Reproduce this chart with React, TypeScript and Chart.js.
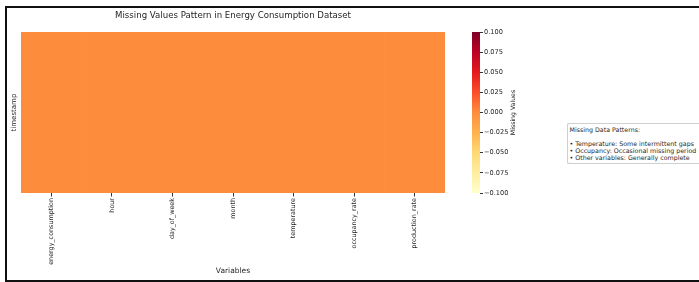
import React, { useEffect, useRef } from "react";
import { Chart, registerables } from "chart.js";

Chart.register(...registerables);

const variables = [
  "energy_consumption",
  "hour",
  "day_of_week",
  "month",
  "temperature",
  "occupancy_rate",
  "production_rate",
];
// missing-value indicator per variable (all complete -> 0)
const missingValues = [0, 0, 0, 0, 0, 0, 0];
const timestampSpan = [0, 1];
const colorbarMin = -0.1;
const colorbarMax = 0.1;
const colorbarStep = 0.025;
const ylOrRd = ["#ffffcc", "#ffeda0", "#fed976", "#feb24c", "#fd8d3c", "#fc4e2a", "#e31a1c", "#bd0026", "#800026"];
const titleText = "Missing Values Pattern in Energy Consumption Dataset";
const noteLines = [
  "Missing Data Patterns:",
  "",
  "• Temperature: Some intermittent gaps",
  "• Occupancy: Occasional missing period",
  "• Other variables: Generally complete",
];

const FONT = "'DejaVu Sans', sans-serif";
const TEXT = "#1f1f1f";

function hexToRgb(h: string) {
  const n = parseInt(h.slice(1), 16);
  return [(n >> 16) & 255, (n >> 8) & 255, n & 255];
}
function cmap(v: number) {
  let t = (v - colorbarMin) / (colorbarMax - colorbarMin);
  t = Math.max(0, Math.min(1, t));
  const pos = t * (ylOrRd.length - 1);
  const i = Math.min(ylOrRd.length - 2, Math.floor(pos));
  const f = pos - i;
  const a = hexToRgb(ylOrRd[i]);
  const b = hexToRgb(ylOrRd[i + 1]);
  const c = a.map((x, k) => Math.round(x + (b[k] - x) * f));
  return `rgb(${c[0]},${c[1]},${c[2]})`;
}

export default function App() {
  const mainRef = useRef<HTMLCanvasElement>(null);
  const cbRef = useRef<HTMLCanvasElement>(null);

  useEffect(() => {
    Chart.defaults.font.family = FONT;
    Chart.defaults.color = TEXT;

    const main = new Chart(mainRef.current!, {
      type: "bar",
      data: {
        labels: variables,
        datasets: [
          {
            data: missingValues.map(() => [timestampSpan[0], timestampSpan[1]]) as any,
            backgroundColor: missingValues.map((v) => cmap(v)),
            borderWidth: 0,
            barPercentage: 1,
            categoryPercentage: 1,
          },
        ],
      },
      options: {
        responsive: false,
        animation: false,
        layout: { padding: { left: 0, top: 0, right: 254, bottom: 0 } },
        plugins: {
          legend: { display: false },
          tooltip: { enabled: false },
          title: {
            display: true,
            text: titleText,
            fullSize: false,
            color: TEXT,
            font: { size: 8.6, weight: "normal" },
            padding: { top: 10.8, bottom: 11 },
          },
        },
        scales: {
          x: {
            type: "category",
            offset: true,
            border: { display: false },
            grid: {
              display: true,
              drawOnChartArea: false,
              drawTicks: true,
              tickLength: 3.5,
              color: "#333",
              offset: false,
            },
            ticks: {
              autoSkip: false,
              maxRotation: 90,
              minRotation: 90,
              padding: 1.5,
              color: TEXT,
              font: { size: 6.4 },
            },
            title: {
              display: true,
              text: "Variables",
              color: TEXT,
              font: { size: 7.5 },
              padding: { top: 0, bottom: 6 },
            },
            afterFit: (s: any) => {
              s.height = 89;
            },
          },
          y: {
            min: timestampSpan[0],
            max: timestampSpan[1],
            border: { display: false },
            grid: { display: false },
            ticks: { display: false },
            title: {
              display: true,
              text: "timestamp",
              color: TEXT,
              font: { size: 7 },
              padding: { top: 9.8, bottom: 0 },
            },
            afterFit: (s: any) => {
              s.width = 21;
            },
          },
        },
      } as any,
    });

    const cbLabel = {
      id: "cbLabel",
      afterDraw(chart: any) {
        const ctx = chart.ctx;
        const area = chart.chartArea;
        ctx.save();
        ctx.translate(53.3, (area.top + area.bottom) / 2);
        ctx.rotate(-Math.PI / 2);
        ctx.textAlign = "center";
        ctx.textBaseline = "middle";
        ctx.fillStyle = TEXT;
        ctx.font = `6.2px ${FONT}`;
        ctx.fillText("Missing Values", 0, 0);
        ctx.restore();
      },
    };

    const cb = new Chart(cbRef.current!, {
      type: "bar",
      data: {
        labels: [""],
        datasets: [
          {
            data: [[colorbarMin, colorbarMax]] as any,
            backgroundColor: (c: any) => {
              const area = c.chart.chartArea;
              if (!area) return ylOrRd[4];
              const g = c.chart.ctx.createLinearGradient(0, area.bottom, 0, area.top);
              ylOrRd.forEach((col, i) => g.addColorStop(i / (ylOrRd.length - 1), col));
              return g;
            },
            borderWidth: 0,
            barPercentage: 1,
            categoryPercentage: 1,
          },
        ],
      },
      options: {
        responsive: false,
        animation: false,
        layout: { padding: { left: 12, top: 32, right: 0, bottom: 89 } },
        plugins: { legend: { display: false }, tooltip: { enabled: false } },
        scales: {
          x: { display: false, offset: true },
          y: {
            position: "right",
            min: colorbarMin,
            max: colorbarMax,
            border: { display: false },
            grid: {
              display: true,
              drawOnChartArea: false,
              drawTicks: true,
              tickLength: 3,
              color: "#333",
            },
            ticks: {
              stepSize: colorbarStep,
              padding: 1,
              color: TEXT,
              font: { size: 6.6 },
              callback: (v: any) => {
                const n = Number(v);
                if (Math.abs(n) < 1e-9) return "0.000";
                return n.toFixed(3).replace("-", "\u2212");
              },
            },
            afterFit: (s: any) => {
              s.width = 80;
            },
          },
        },
      } as any,
      plugins: [cbLabel],
    });

    return () => {
      main.destroy();
      cb.destroy();
    };
  }, []);

  return (
    <div
      style={{
        position: "absolute",
        left: 0,
        top: 0,
        width: 699,
        height: 282,
        overflow: "hidden",
        background: "#fff",
      }}
    >
      <div
        style={{
          position: "absolute",
          left: 5,
          top: 6,
          width: 900,
          height: 272,
          borderTop: "2px solid #111",
          borderLeft: "2px solid #111",
          borderBottom: "2px solid #111",
          borderRight: "none",
        }}
      />
      <canvas
        ref={mainRef}
        width={699}
        height={282}
        style={{ position: "absolute", left: 0, top: 0, width: 699, height: 282 }}
      />
      <canvas
        ref={cbRef}
        width={100}
        height={282}
        style={{ position: "absolute", left: 460, top: 0, width: 100, height: 282 }}
      />
      <div
        style={{
          position: "absolute",
          left: 567,
          top: 123,
          width: 150,
          boxSizing: "border-box",
          border: "1px solid #cfcfcf",
          borderRight: "none",
          borderRadius: 2,
          padding: "2.3px 2px 2px 1.5px",
          fontFamily: FONT,
          fontSize: 6.3,
          lineHeight: "7px",
          color: TEXT,
          whiteSpace: "pre",
          background: "#fff",
        }}
      >
        {noteLines.map((l, i) => (
          <div key={i} style={{ height: 7 }}>
            {l}
          </div>
        ))}
      </div>
    </div>
  );
}
